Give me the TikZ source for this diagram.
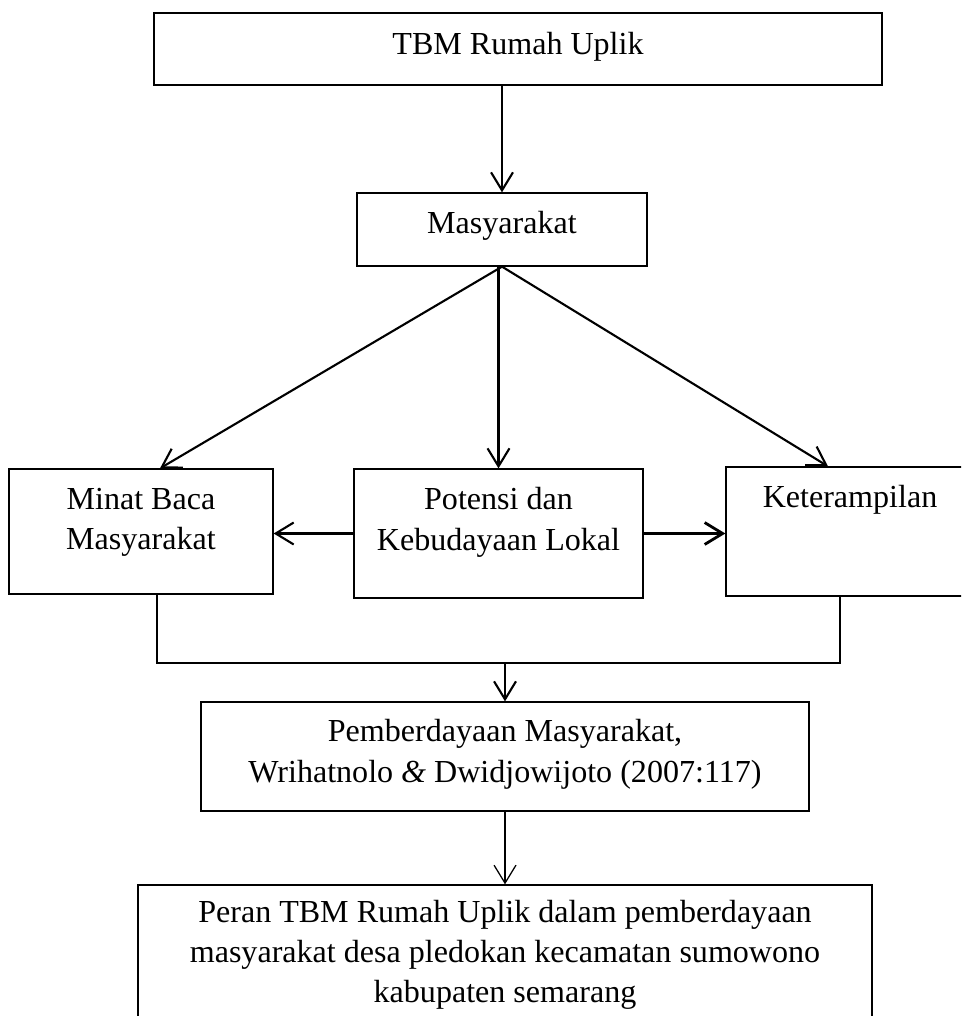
\documentclass[tikz,border=0pt]{standalone}
\usepackage{fontspec}
\setmainfont{Liberation Serif}
\usepackage{tikz}
\usetikzlibrary{arrows.meta}

\begin{document}
\begin{tikzpicture}[x=0.025cm, y=-0.025cm,
	kotak/.style={draw, line width=0.9pt, inner sep=0pt, align=center, text height=15.6pt, font=\fontsize{22.8pt}{28.5pt}\selectfont},
	panah/.style={-{Straight Barb[length=12.8pt, width=15.6pt]}, line width=1.5pt},
	panahtipis/.style={-{Straight Barb[length=12.8pt, width=15.6pt]}, line width=0.9pt},
	garis/.style={line width=1.6pt}]
				\useasboundingbox (0,0) rectangle (961,1016);
				\clip (0,0) rectangle (961,1016);
				\node[kotak, minimum width=18.2cm, minimum height=1.8cm, text depth=7.1pt] (tbm) at (518,49) {TBM Rumah Uplik};
				\node[kotak, minimum width=7.25cm, minimum height=1.825cm, text depth=9.2pt] (mas) at (502,229.5) {Masyarakat};
				
				\node[kotak, minimum width=6.6cm, minimum height=3.125cm, text height=44.8pt, text depth=18.5pt] (minat) at (141,531.5) {Minat Baca\\Masyarakat};
				\node[kotak, minimum width=7.225cm, minimum height=3.225cm, text height=44.8pt, text depth=21.3pt] (pot) at (498.5,533.5) {Potensi dan\\Kebudayaan Lokal};
				\node[kotak, minimum width=6.2cm, minimum height=3.225cm, text depth=49.1pt] (ket) at (850,531.5) {Keterampilan};
				
				\node[kotak, minimum width=15.2cm, minimum height=2.725cm, text height=43.4pt, text depth=7.1pt] (pemb) at (505,756.5) {Pemberdayaan Masyarakat,\\Wrihatnolo \textit{\&} Dwidjowijoto (2007:117)};
				\node[kotak, minimum width=18.35cm, minimum height=3.55cm, text height=71.8pt, text depth=5pt] (peran) at (505,956) {Peran TBM Rumah Uplik dalam pemberdayaan\\masyarakat desa pledokan kecamatan sumowono\\kabupaten semarang};
				
				\draw[panah] (mas.north |- tbm.south) -- (mas.north);
				\draw[panah] (mas.south) -- ([xshift=0.475cm]minat.north);
				\draw[panah] (pot.north |- mas.south) -- (pot.north);
				\draw[panah] (mas.south) -- ([xshift=-0.55cm]ket.north);
				\draw[panah] (pot.west) -- (pot.west -| minat.east);
				\draw[panah, line width=2pt] (pot.east) -- (pot.east -| ket.west);
				
				\coordinate (gabung) at (505,663);
				\draw[garis] ([xshift=0.4cm]minat.south) |- (gabung) -| ([xshift=-0.25cm]ket.south);
				\draw[panah] (gabung) -- (pemb.north);
				\draw[panahtipis] (pemb.south) -- (peran.north);
\end{tikzpicture}
\end{document}
